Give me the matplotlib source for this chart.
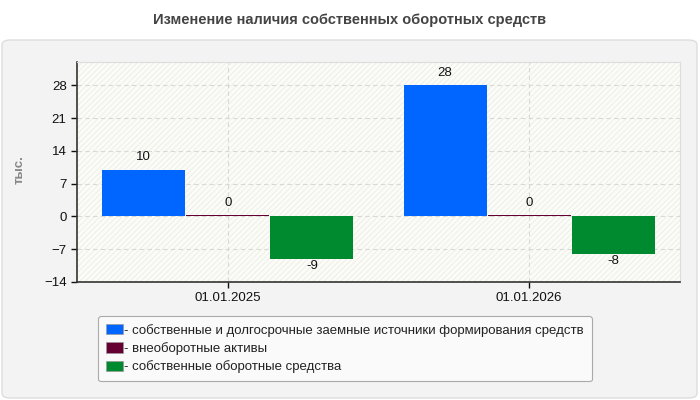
import matplotlib.pyplot as plt
import numpy as np
from matplotlib.patches import FancyBboxPatch, Rectangle, Patch

plt.rcParams['font.family'] = ['Liberation Sans', 'DejaVu Sans']
plt.rcParams['hatch.linewidth'] = 0.6

dates = ['01.01.2025', '01.01.2026']
series_names = ['собственные и долгосрочные заемные источники формирования средств',
                'внеоборотные активы',
                'собственные оборотные средства']
own_long = [10, 28]
noncurrent = [0, 0]
working = [-9, -8]
colors = ['#0066ff', '#660033', '#008a30']
yticks = [-14, -7, 0, 7, 14, 21, 28]

W, H = 700, 400
fig = plt.figure(figsize=(7, 4), dpi=100)

# grey panel
panel = FancyBboxPatch((2 / W, 2 / H), 695 / W, 358 / H,
                       boxstyle='round,pad=0,rounding_size=0.012',
                       transform=fig.transFigure, facecolor='#f3f3f3',
                       edgecolor='#dddddd', linewidth=1, zorder=-5)
fig.patches.append(panel)

fig.text(0.5, 1 - 20 / H, 'Изменение наличия собственных оборотных средств',
         ha='center', va='center', fontsize=10.5, fontweight='bold', color='#444444')

ax = fig.add_axes([77 / W, 1 - 282 / H, 603 / W, 220 / H])
ax.set_zorder(2)
ax.set_facecolor('#fcfcf6')
ax.add_patch(Rectangle((0, 0), 1, 1, transform=ax.transAxes, facecolor='none',
                       edgecolor='#ebebeb', hatch='//////', linewidth=0, zorder=0))

x = np.arange(len(dates))
bw = 0.275
step = 0.279
for i, (vals, c) in enumerate(zip([own_long, noncurrent, working], colors)):
    pos = x + (i - 1) * step
    if i == 1:
        ax.bar(pos, [v + 0.3 for v in vals], bw, bottom=0, color=c, zorder=3)
    else:
        ax.bar(pos, vals, bw, color=c, zorder=3)
    for p, v in zip(pos, vals):
        if v >= 0:
            ax.text(p, (v if i != 1 else 0.3) + 1.4, f'{v}', ha='center', va='bottom',
                    fontsize=9.5, color='#111111', zorder=4)
        else:
            ax.text(p, v - 0.3, f'{v}', ha='center', va='top',
                    fontsize=9.5, color='#111111', zorder=4)

ax.set_xlim(-0.5, 1.5)
ax.set_ylim(-14, 33)
ax.set_yticks(yticks)
ax.set_xticks(x)
ax.set_xticklabels(dates)
ax.tick_params(labelsize=9.5, colors='#111111', length=4, width=1)
ax.grid(True, color='#d8d8d8', linestyle=(0, (4, 3)), linewidth=0.8, zorder=1)
for s in ['top', 'right']:
    ax.spines[s].set_color('#dddddd')
for s in ['left', 'bottom']:
    ax.spines[s].set_color('#333333')
    ax.spines[s].set_linewidth(1.2)

fig.text(20 / W, 1 - 170 / H, 'тыс.', rotation=90, ha='center', va='center',
         fontsize=9.5, fontweight='bold', color='#888888')

handles = [Patch(facecolor=c, edgecolor='#999999', linewidth=0.5) for c in colors]
labels = ['- ' + n for n in series_names]
leg = fig.legend(handles, labels, loc='upper left',
                 bbox_to_anchor=(98 / W, 1 - 316 / H), borderaxespad=0,
                 fontsize=9.5, frameon=True, fancybox=True,
                 handlelength=1.3, handleheight=0.8, handletextpad=0.1,
                 labelspacing=0.4, borderpad=0.6,
                 edgecolor='#aaaaaa', facecolor='#fafafa', framealpha=1)
leg.get_frame().set_linewidth(0.8)
for t in leg.get_texts():
    t.set_color('#222222')

fig.savefig('out.png', dpi=100)
